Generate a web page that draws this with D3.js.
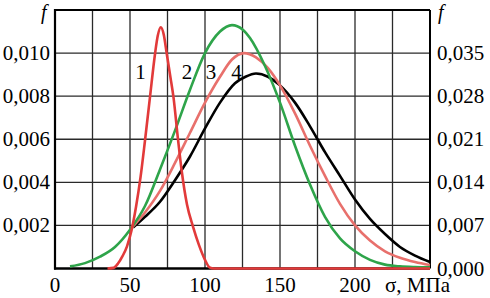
<!DOCTYPE html>
<html>
<head>
<meta charset="utf-8">
<script src="https://cdn.jsdelivr.net/npm/d3@7"></script>
<style>
    body { margin: 0; background: #fff; }
    text { font-family: "Liberation Serif", "DejaVu Serif", Times, serif; }
</style>
</head>
<body>
<div id="chart"></div>
<script>
// curve 1 (right axis), curves 2-4 (left axis)
let curve1X = [35, 39, 42, 45, 48, 51, 54, 57, 60, 63.3, 66.7, 68.5, 70.5, 72.5, 74.5, 77, 79, 82, 84.5, 88, 92, 96, 100, 103, 106, 250]
let curve1F = [0, 0.0001, 0.0008, 0.002, 0.0036, 0.0062, 0.01, 0.0148, 0.0208, 0.0278, 0.0349, 0.0378, 0.0392, 0.038, 0.0349, 0.031, 0.0278, 0.021, 0.0158, 0.0104, 0.0068, 0.0038, 0.0014, 0.0002, 0, 0]

let curve2X = [10, 20, 30, 40, 50, 60, 70, 80, 90, 100, 110, 118, 125, 130, 140, 150, 160, 170, 180, 190, 200, 210, 220, 230, 240, 250]
let curve2F = [0.0001, 0.00025, 0.00055, 0.001, 0.0018, 0.0029, 0.0046, 0.0064, 0.0083, 0.01, 0.011, 0.0113, 0.0111, 0.0107, 0.0094, 0.0077, 0.0057, 0.0039, 0.0024, 0.0014, 0.0008, 0.0004, 0.00018, 0.0001, 0.00007, 0.00006]

let curve3X = [50, 60, 70, 80, 90, 100, 110, 118, 126, 134, 142, 150, 160, 170, 180, 190, 200, 210, 220, 230, 240, 250]
let curve3F = [0.0018, 0.0026, 0.0036, 0.0049, 0.0063, 0.0077, 0.0089, 0.0097, 0.01, 0.0098, 0.0093, 0.0085, 0.0072, 0.0057, 0.0043, 0.003, 0.002, 0.0013, 0.0008, 0.0005, 0.0003, 0.00016]

let curve4X = [52, 60, 70, 80, 90, 100, 110, 120, 127, 134, 142, 150, 160, 170, 180, 190, 200, 210, 220, 230, 240, 250]
let curve4F = [0.0019, 0.0024, 0.0031, 0.0041, 0.0052, 0.0065, 0.0077, 0.0086, 0.0089, 0.00905, 0.0089, 0.0085, 0.0077, 0.0066, 0.0054, 0.0043, 0.0032, 0.0023, 0.0016, 0.001, 0.0006, 0.0003]

let xTicks = [0, 50, 100, 150, 200]
let xGrid = [25, 50, 75, 100, 125, 150, 175, 200, 225]
let leftTicks = [0.002, 0.004, 0.006, 0.008, 0.010]
let rightTicks = [0, 0.007, 0.014, 0.021, 0.028, 0.035]

let labelNames = ["1", "2", "3", "4"]
let labelX = [57, 88, 104, 121]
let labelF = [0.0088, 0.0088, 0.0088, 0.0088]

let fmt = d => d.toFixed(3).replace(".", ",")
let serif = "Liberation Serif, DejaVu Serif, Times, serif"

let margin = {top: 10, right: 60, bottom: 29.5, left: 55}
let width = 490 - margin.left - margin.right
let height = 298 - margin.top - margin.bottom

let svg = d3.select("#chart").append("svg")
    .attr("width", 490)
    .attr("height", 298)
    .append("g")
    .attr("transform", `translate(${margin.left},${margin.top})`)

let x = d3.scaleLinear().domain([0, 250]).range([0, width])
let yLeft = d3.scaleLinear().domain([0, 0.012]).range([height, 0])
let yRight = d3.scaleLinear().domain([0, 0.042]).range([height, 0])

// grid
svg.selectAll(".vgrid").data(xGrid).enter().append("line")
    .attr("x1", d => x(d)).attr("x2", d => x(d))
    .attr("y1", 0).attr("y2", height)
    .attr("stroke", "#2a2a2a").attr("stroke-width", 1.3)

svg.selectAll(".hgrid").data(leftTicks).enter().append("line")
    .attr("x1", 0).attr("x2", width)
    .attr("y1", d => yLeft(d)).attr("y2", d => yLeft(d))
    .attr("stroke", "#2a2a2a").attr("stroke-width", 1.3)

// frame (under the curves, the zero line of curve 1 lies on the axis)
svg.append("line").attr("x1", 0).attr("x2", width).attr("y1", 0).attr("y2", 0)
    .attr("stroke", "#000").attr("stroke-width", 2.2)
svg.append("line").attr("x1", width).attr("x2", width).attr("y1", 0).attr("y2", height)
    .attr("stroke", "#000").attr("stroke-width", 2)
svg.append("line").attr("x1", 0).attr("x2", 0).attr("y1", -1).attr("y2", height + 1)
    .attr("stroke", "#000").attr("stroke-width", 2.2)
svg.append("line").attr("x1", -1).attr("x2", width).attr("y1", height).attr("y2", height)
    .attr("stroke", "#000").attr("stroke-width", 2.4)

// curves
let drawCurve = function(xs, fs, yScale, color) {
    let line = d3.line()
        .x(d => x(d[0]))
        .y(d => yScale(d[1]))
        .curve(d3.curveMonotoneX)
    svg.append("path")
        .datum(d3.zip(xs, fs))
        .attr("d", line)
        .attr("fill", "none")
        .attr("stroke", color)
        .attr("stroke-width", 2.6)
        .attr("stroke-linejoin", "round")
}
drawCurve(curve4X, curve4F, yLeft, "#000000")
drawCurve(curve3X, curve3F, yLeft, "#e8706c")
drawCurve(curve2X, curve2F, yLeft, "#2ea44a")
drawCurve(curve1X, curve1F, yRight, "#e23a3a")

// tick labels
let addText = function(sel) {
    return sel.style("font-family", serif).attr("fill", "#000")
}

addText(svg.selectAll(".xl").data(xTicks).enter().append("text"))
    .attr("x", d => x(d)).attr("y", height + 23)
    .attr("text-anchor", "middle")
    .attr("font-size", "21px")
    .text(d => d)

addText(svg.append("text"))
    .attr("x", x(250) - 45).attr("y", height + 23)
    .attr("font-size", "21px")
    .text("σ, МПа")

addText(svg.selectAll(".yl").data(leftTicks).enter().append("text"))
    .attr("x", -5).attr("y", d => yLeft(d) + 7)
    .attr("text-anchor", "end")
    .attr("font-size", "21px")
    .text(fmt)

addText(svg.selectAll(".yr").data(rightTicks).enter().append("text"))
    .attr("x", width + 7).attr("y", d => yRight(d) + 7)
    .attr("font-size", "21px")
    .text(fmt)

addText(svg.append("text")).attr("x", -14).attr("y", 9)
    .attr("font-size", "20px").attr("font-style", "italic")
    .text("f")
addText(svg.append("text")).attr("x", width + 8).attr("y", 9)
    .attr("font-size", "20px").attr("font-style", "italic")
    .text("f")

// curve numbers
addText(svg.selectAll(".cl").data(labelNames).enter().append("text"))
    .attr("x", (d, i) => x(labelX[i]))
    .attr("y", (d, i) => yLeft(labelF[i]))
    .attr("text-anchor", "middle")
    .attr("font-size", "21px")
    .text(d => d)
</script>
</body>
</html>
